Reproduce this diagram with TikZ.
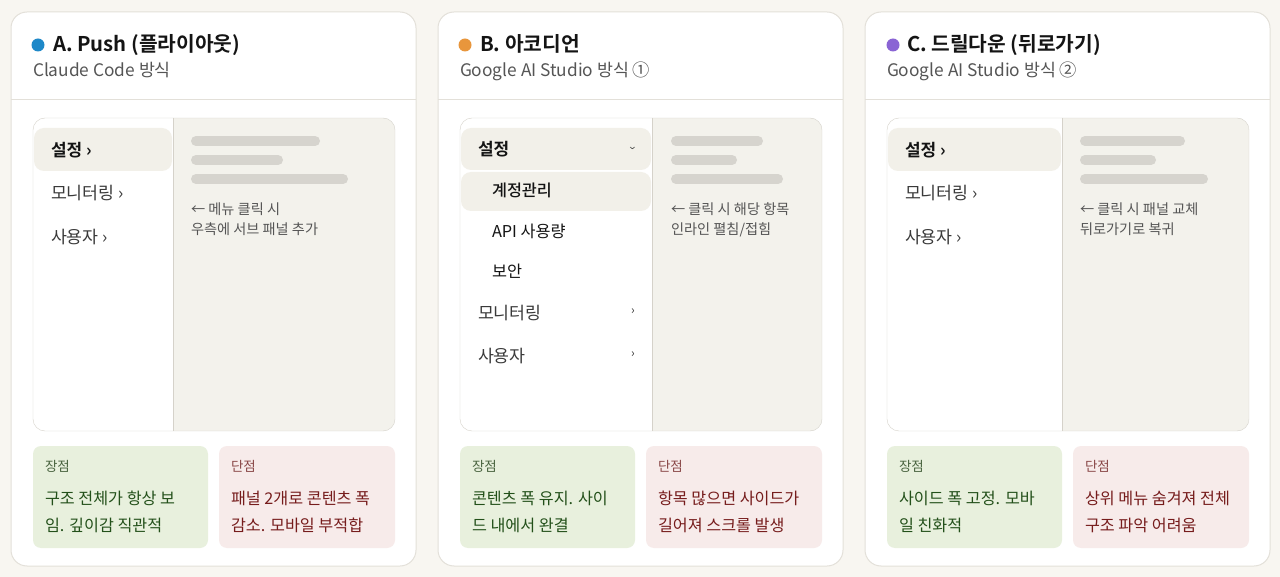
\documentclass[tikz,border=0pt]{standalone}
\usepackage{fontspec}
\setmainfont{Noto Sans CJK KR}[BoldFont={Noto Sans CJK KR Bold}]
\newfontfamily\medfont{Noto Sans CJK KR Medium}
\definecolor{bgc}{HTML}{F8F6F1}
\definecolor{cardline}{HTML}{E3E0D9}
\definecolor{panelline}{HTML}{D5D2CA}
\definecolor{beige}{HTML}{F3F2EC}
\definecolor{hl}{HTML}{F2F0E9}
\definecolor{barc}{HTML}{D6D4CE}
\definecolor{titlec}{HTML}{141414}
\definecolor{subc}{HTML}{555555}
\definecolor{itemc}{HTML}{3A3A3A}
\definecolor{notec}{HTML}{555555}
\definecolor{prosbg}{HTML}{E8F0DD}
\definecolor{proslab}{HTML}{4A6440}
\definecolor{prostx}{HTML}{23501A}
\definecolor{consbg}{HTML}{F7EBEA}
\definecolor{conslab}{HTML}{8A4848}
\definecolor{constx}{HTML}{761C1C}
\definecolor{dotA}{HTML}{1E88C8}
\definecolor{dotB}{HTML}{E8963C}
\definecolor{dotC}{HTML}{8A64D4}
\newcommand\fsz[1]{\fontsize{#1}{#1}\selectfont}
\tikzset{
  txt/.style={inner sep=0pt, outer sep=0pt, anchor=base west},
  cardbox/.style={fill=white, draw=cardline, line width=1pt, rounded corners=16pt},
  titletx/.style={txt, text=titlec, font=\bfseries\fsz{20.3}},
  subtx/.style={txt, text=subc, font=\fsz{17.3}},
  itemtx/.style={txt, text=itemc, font=\fsz{17.3}},
  selitem/.style={txt, text=titlec, font=\bfseries\fsz{17}},
  subitem/.style={txt, text=titlec, font=\fsz{16.3}},
  notetx/.style={txt, text=notec, font=\fsz{14.2}},
  barline/.style={barc, line width=10pt, line cap=round},
  hlbox/.style={fill=hl, rounded corners=10pt},
  prosbox/.style={fill=prosbg, rounded corners=8pt},
  consbox/.style={fill=consbg, rounded corners=8pt},
  proslabel/.style={txt, text=proslab, font=\fsz{13.5}},
  conslabel/.style={txt, text=conslab, font=\fsz{13.5}},
  prostext/.style={txt, text=prostx, font=\fsz{16.2}},
  constext/.style={txt, text=constx, font=\fsz{16.2}},
  chev/.style={inner sep=0pt, text=itemc, font=\fsz{12}},
}
\begin{document}
\begin{tikzpicture}[x=1pt,y=-1pt]
\fill[bgc] (0,0) rectangle (1280,577);
\useasboundingbox (0,0) rectangle (1280,577);

% ---------- Card A ----------
\begin{scope}[shift={(11,0)}]
\draw[cardbox] (0,12) rectangle (405,566);
\draw[cardline] (0,99) -- (405,99);
\fill[dotA] (27,45) circle (6.5);
\node[titletx] (tA) at (42,51.5) {A. Push (플라이아웃)};
\node[subtx] (sA) at (22,76.5) {Claude Code 방식};
\begin{scope}
\clip[rounded corners=12pt] (22,118) rectangle (384,431);
\fill[white] (22,118) rectangle (162,431);
\fill[beige] (162,118) rectangle (384,431);
\end{scope}
\fill[hlbox] (23,128) rectangle (161,171);
\draw[panelline] (162,118) -- (162,431);
\draw[panelline, rounded corners=12pt] (22,118) rectangle (384,431);
\node[selitem] (a1) at (40,156.5) {설정 ›};
\node[itemtx] (a2) at (40,199.5) {모니터링 ›};
\node[itemtx] (a3) at (40,243.5) {사용자 ›};
\draw[barline] (185,141) -- (304,141);
\draw[barline] (185,160) -- (267,160);
\draw[barline] (185,179) -- (332,179);
\node[notetx] (na1) at (180,214.5) {← 메뉴 클릭 시};
\node[notetx] (na2) at (180,234.5) {우측에 서브 패널 추가};
\fill[prosbox] (22,446) rectangle (197,548);
\fill[consbox] (208,446) rectangle (384,548);
\node[proslabel] (pA) at (34,471.5) {장점};
\node[prostext] (pA1) at (34,504) {구조 전체가 항상 보};
\node[prostext] (pA2) at (34,531) {임. 깊이감 직관적};
\node[conslabel] (cA) at (220,471.5) {단점};
\node[constext] (cA1) at (220,504) {패널 2개로 콘텐츠 폭};
\node[constext] (cA2) at (220,531) {감소. 모바일 부적합};
\end{scope}

% ---------- Card B ----------
\begin{scope}[shift={(438,0)}]
\draw[cardbox] (0,12) rectangle (405,566);
\draw[cardline] (0,99) -- (405,99);
\fill[dotB] (27,45) circle (6.5);
\node[titletx] (tB) at (42,51.5) {B. 아코디언};
\node[subtx] (sB) at (22,76.5) {Google AI Studio 방식 ①};
\begin{scope}
\clip[rounded corners=12pt] (22,118) rectangle (384,431);
\fill[white] (22,118) rectangle (214,431);
\fill[beige] (214,118) rectangle (384,431);
\end{scope}
\fill[hlbox] (23,128) rectangle (213,170);
\fill[hlbox] (23,172) rectangle (213,211);
\draw[panelline] (214,118) -- (214,431);
\draw[panelline, rounded corners=12pt] (22,118) rectangle (384,431);
\node[selitem] (b1) at (40,155.5) {설정};
\node[chev, rotate=-90] (b1c) at (194,148) {›};
\node[subitem, font=\medfont\fsz{16.3}] (b11) at (54,197) {계정관리};
\node[subitem] (b12) at (54,238) {API 사용량};
\node[subitem] (b13) at (54,278) {보안};
\node[itemtx] (b2) at (40,319.5) {모니터링};
\node[chev] (b2c) at (195,312) {›};
\node[itemtx] (b3) at (40,362.5) {사용자};
\node[chev] (b3c) at (195,355) {›};
\draw[barline] (238,141) -- (320,141);
\draw[barline] (238,160) -- (294,160);
\draw[barline] (238,179) -- (340,179);
\node[notetx] (nb1) at (233,214.5) {← 클릭 시 해당 항목};
\node[notetx] (nb2) at (233,234.5) {인라인 펼침/접힘};
\fill[prosbox] (22,446) rectangle (197,548);
\fill[consbox] (208,446) rectangle (384,548);
\node[proslabel] (pB) at (34,471.5) {장점};
\node[prostext] (pB1) at (34,504) {콘텐츠 폭 유지. 사이};
\node[prostext] (pB2) at (34,531) {드 내에서 완결};
\node[conslabel] (cB) at (220,471.5) {단점};
\node[constext] (cB1) at (220,504) {항목 많으면 사이드가};
\node[constext] (cB2) at (220,531) {길어져 스크롤 발생};
\end{scope}

% ---------- Card C ----------
\begin{scope}[shift={(865,0)}]
\draw[cardbox] (0,12) rectangle (405,566);
\draw[cardline] (0,99) -- (405,99);
\fill[dotC] (28,45) circle (6.5);
\node[titletx] (tC) at (42,51.5) {C. 드릴다운 (뒤로가기)};
\node[subtx] (sC) at (22,76.5) {Google AI Studio 방식 ②};
\begin{scope}
\clip[rounded corners=12pt] (22,118) rectangle (384,431);
\fill[white] (22,118) rectangle (197,431);
\fill[beige] (197,118) rectangle (384,431);
\end{scope}
\fill[hlbox] (23,128) rectangle (196,171);
\draw[panelline] (197,118) -- (197,431);
\draw[panelline, rounded corners=12pt] (22,118) rectangle (384,431);
\node[selitem] (c1) at (40,156.5) {설정 ›};
\node[itemtx] (c2) at (40,199.5) {모니터링 ›};
\node[itemtx] (c3) at (40,243.5) {사용자 ›};
\draw[barline] (220,141) -- (315,141);
\draw[barline] (220,160) -- (286,160);
\draw[barline] (220,179) -- (338,179);
\node[notetx] (nc1) at (215,214.5) {← 클릭 시 패널 교체};
\node[notetx] (nc2) at (215,234.5) {뒤로가기로 복귀};
\fill[prosbox] (22,446) rectangle (197,548);
\fill[consbox] (208,446) rectangle (384,548);
\node[proslabel] (pC) at (34,471.5) {장점};
\node[prostext] (pC1) at (34,504) {사이드 폭 고정. 모바};
\node[prostext] (pC2) at (34,531) {일 친화적};
\node[conslabel] (cC) at (220,471.5) {단점};
\node[constext] (cC1) at (220,504) {상위 메뉴 숨겨져 전체};
\node[constext] (cC2) at (220,531) {구조 파악 어려움};
\end{scope}
\end{tikzpicture}
\end{document}
